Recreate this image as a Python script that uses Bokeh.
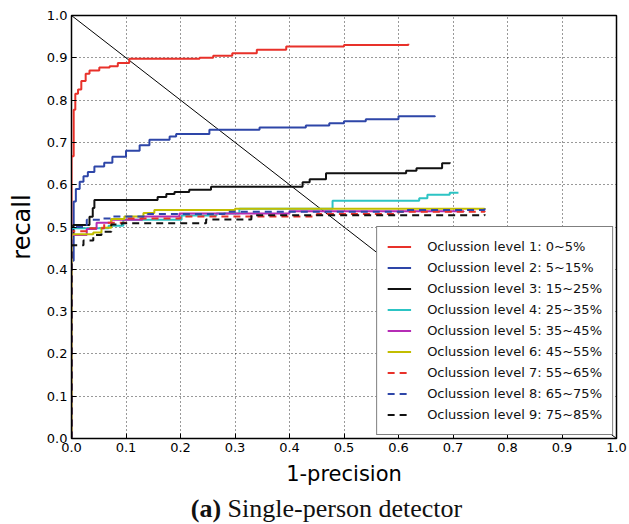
from bokeh.plotting import figure
from bokeh.models import Range1d, SingleIntervalTicker, PrintfTickFormatter, Legend, Div
from bokeh.layouts import column
from bokeh.embed import file_html
from bokeh.resources import INLINE

# ---- data ----
l1_x = [0, 0, 0.004, 0.007, 0.012, 0.018, 0.026, 0.033, 0.051, 0.07, 0.085, 0.106, 0.235, 0.26, 0.295, 0.34, 0.394, 0.5, 0.618]
l1_y = [0, 0.667, 0.777, 0.815, 0.825, 0.845, 0.862, 0.870, 0.877, 0.880, 0.888, 0.898, 0.900, 0.905, 0.911, 0.919, 0.927, 0.930, 0.933]

l2_x = [0, 0, 0.004, 0.008, 0.015, 0.022, 0.03, 0.042, 0.06, 0.075, 0.1, 0.125, 0.143, 0.18, 0.192, 0.253, 0.345, 0.43, 0.473, 0.5, 0.54, 0.6, 0.667]
l2_y = [0, 0.42, 0.56, 0.59, 0.607, 0.62, 0.63, 0.643, 0.652, 0.666, 0.68, 0.693, 0.706, 0.714, 0.72, 0.73, 0.735, 0.74, 0.745, 0.75, 0.755, 0.762, 0.763]

l3_x = [0, 0, 0.003, 0.033, 0.039, 0.042, 0.158, 0.174, 0.189, 0.216, 0.256, 0.424, 0.437, 0.467, 0.614, 0.633, 0.68, 0.694]
l3_y = [0, 0.48, 0.505, 0.524, 0.545, 0.564, 0.571, 0.578, 0.583, 0.588, 0.595, 0.606, 0.613, 0.627, 0.633, 0.639, 0.651, 0.653]

l4_x = [0, 0, 0.068, 0.095, 0.202, 0.266, 0.308, 0.479, 0.638, 0.653, 0.694, 0.71]
l4_y = [0, 0.497, 0.503, 0.517, 0.527, 0.532, 0.543, 0.562, 0.568, 0.576, 0.581, 0.581]

l5_x = [0, 0, 0.028, 0.046, 0.073, 0.13, 0.198, 0.4, 0.72]
l5_y = [0, 0.481, 0.495, 0.51, 0.517, 0.525, 0.532, 0.537, 0.538]

l6_x = [0, 0, 0.04, 0.055, 0.073, 0.097, 0.132, 0.152, 0.3, 0.758]
l6_y = [0, 0.483, 0.487, 0.498, 0.519, 0.525, 0.533, 0.54, 0.543, 0.545]

l7_x = [0, 0, 0.03, 0.06, 0.1, 0.2, 0.45, 0.6, 0.758]
l7_y = [0, 0.49, 0.497, 0.51, 0.52, 0.525, 0.531, 0.536, 0.538]

l8_x = [0, 0, 0.028, 0.055, 0.073, 0.14, 0.281, 0.615, 0.758]
l8_y = [0, 0.5, 0.517, 0.52, 0.525, 0.531, 0.536, 0.54, 0.545]

l9_x = [0, 0, 0.022, 0.04, 0.055, 0.073, 0.092, 0.247, 0.33, 0.758]
l9_y = [0, 0.457, 0.468, 0.481, 0.489, 0.506, 0.509, 0.518, 0.528, 0.53]

diag_x = [0.0, 1.0]
diag_y = [1.0, 0.0]

labels = [
    "Oclussion level 1: 0~5%",
    "Oclussion level 2: 5~15%",
    "Oclussion level 3: 15~25%",
    "Oclussion level 4: 25~35%",
    "Oclussion level 5: 35~45%",
    "Oclussion level 6: 45~55%",
    "Oclussion level 7: 55~65%",
    "Oclussion level 8: 65~75%",
    "Oclussion level 9: 75~85%",
]

series = [(l1_x, l1_y), (l2_x, l2_y), (l3_x, l3_y), (l4_x, l4_y), (l5_x, l5_y),
          (l6_x, l6_y), (l7_x, l7_y), (l8_x, l8_y), (l9_x, l9_y)]
colors = ["#e8312a", "#2e46a8", "#111111", "#2cc4c4", "#b52cb5", "#c2bd00",
          "#e8312a", "#2e46a8", "#111111"]
dashes = ["solid"] * 6 + ["7 5"] * 3

FONT = "DejaVu Sans"

p = figure(width=627, height=496, output_backend="svg", toolbar_location=None,
           x_range=Range1d(0, 1), y_range=Range1d(0, 1),
           min_border_left=71, min_border_top=15, min_border_right=11, min_border_bottom=58)
p.background_fill_color = "white"
p.border_fill_color = "white"
p.outline_line_color = "black"
p.outline_line_width = 1.5

for ax in (p.xaxis[0], p.yaxis[0]):
    ax.ticker = SingleIntervalTicker(interval=0.1)
    ax.formatter = PrintfTickFormatter(format="%.1f")
    ax.major_label_text_font = FONT
    ax.major_label_text_font_size = "13px"
    ax.major_label_text_color = "black"
    ax.axis_label_text_font = FONT
    ax.axis_label_text_font_style = "normal"
    ax.axis_label_text_color = "black"
    ax.major_tick_in = 5
    ax.major_tick_out = 0
    ax.minor_tick_in = 0
    ax.minor_tick_out = 0
    ax.axis_line_color = "black"
    ax.major_tick_line_color = "black"

p.xaxis.axis_label = "1-precision"
p.xaxis.axis_label_text_font_size = "21px"
p.xaxis.axis_label_standoff = 7
p.xaxis.major_label_standoff = 4
p.yaxis.axis_label = "recall"
p.yaxis.axis_label_text_font_size = "24px"
p.yaxis.axis_label_standoff = 8
p.yaxis.major_label_standoff = 4

for g in (p.xgrid[0], p.ygrid[0]):
    g.ticker = SingleIntervalTicker(interval=0.1)
    g.grid_line_color = "black"
    g.grid_line_dash = "1 3"
    g.grid_line_width = 1
    g.grid_line_alpha = 0.8

p.line(diag_x, diag_y, line_color="black", line_width=1)

items = []
for (xs, ys), c, d, lab in zip(series, colors, dashes, labels):
    r = p.step(xs, ys, mode="after", line_color=c, line_width=2, line_dash=d)
    items.append((lab, [r]))

legend = Legend(items=items, location="bottom_right")
legend.label_text_font = FONT
legend.label_text_font_size = "13px"
legend.label_text_color = "#111111"
legend.glyph_width = 24
legend.glyph_height = 19
legend.label_height = 19
legend.spacing = 2
legend.padding = 10
legend.label_standoff = 16
legend.margin = 3
legend.border_line_color = "black"
legend.border_line_width = 1
legend.background_fill_alpha = 1
p.add_layout(legend, "center")

cap = Div(text='<span style="font-family:\'Liberation Serif\',serif;font-size:26px;color:#111">'
               '<b>(a)</b> Single-person detector</span>',
          width=627, height=26,
          styles={"text-align": "center", "padding-left": "26px", "margin": "0", "line-height": "26px"})

lay = column(p, cap, spacing=0)
open("out.html", "w").write(file_html(lay, INLINE))
